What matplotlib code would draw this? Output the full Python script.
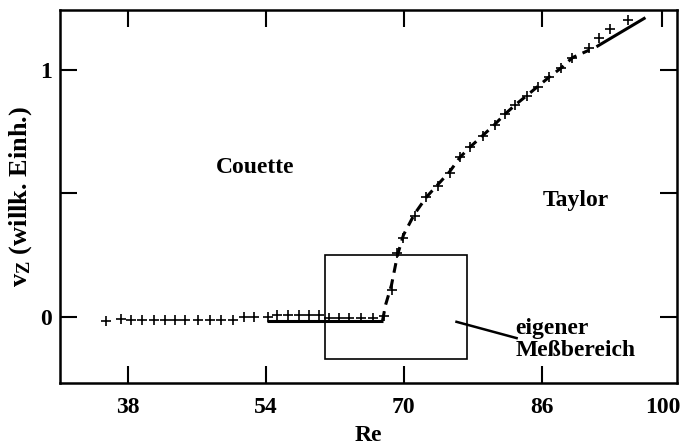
import matplotlib
matplotlib.use("Agg")
import matplotlib.pyplot as plt
from matplotlib.patches import Rectangle

plt.rcParams['font.family'] = ['Liberation Serif', 'DejaVu Serif']
plt.rcParams['font.weight'] = 'bold'
plt.rcParams['mathtext.fontset'] = 'custom'
plt.rcParams['mathtext.rm'] = 'Liberation Serif:bold'
plt.rcParams['mathtext.it'] = 'Liberation Serif:bold'
plt.rcParams['mathtext.bf'] = 'Liberation Serif:bold'

# measured points (+)
re_meas = [35.43, 37.17, 38.33, 39.61, 41.0, 42.27, 43.43, 44.59, 46.1, 47.49,
           48.77, 50.16, 51.43, 52.59, 54.22, 55.26, 56.54, 57.81, 58.97, 60.13,
           61.4, 62.56, 63.72, 65.11, 66.39, 67.78, 68.63, 69.25, 69.9, 71.26,
           72.62, 73.96, 75.32, 76.56, 77.72, 79.18, 80.54, 81.7, 82.93, 84.28,
           85.55, 86.91, 88.27, 89.54, 91.47, 92.71, 93.98, 95.99]
vz_meas = [-0.016, -0.011, -0.013, -0.013, -0.015, -0.013, -0.013, -0.013, -0.013, -0.013,
           -0.013, -0.013, -0.003, -0.003, -0.001, 0.005, 0.007, 0.007, 0.007, 0.007,
           -0.005, -0.005, -0.007, -0.007, -0.007, 0.003, 0.108, 0.257, 0.318, 0.408,
           0.483, 0.530, 0.584, 0.646, 0.687, 0.732, 0.777, 0.820, 0.858, 0.895,
           0.932, 0.973, 1.009, 1.050, 1.088, 1.131, 1.166, 1.203]

# curve: flat part (solid)
re_flat = [54.2, 67.55]
vz_flat = [-0.016, -0.016]
# curve: rising part (dashed)
re_rise = [67.55, 67.90, 68.59, 69.29, 69.98, 71.26, 72.65, 73.93, 75.32, 76.59,
           77.75, 79.14, 80.53, 81.69, 82.97, 84.24, 85.52, 86.91, 88.30, 89.58, 91.55]
vz_rise = [-0.017, 0.047, 0.128, 0.250, 0.331, 0.416, 0.485, 0.534, 0.587, 0.648,
           0.689, 0.733, 0.778, 0.819, 0.859, 0.895, 0.932, 0.972, 1.009, 1.050, 1.081]
# curve: end part (solid)
re_end = [92.36, 98.04]
vz_end = [1.094, 1.212]

xticks = [38, 54, 70, 86, 100]
xticklabels = ['38', '54', '70', '86', '100']
yticks = [0, 0.5, 1]
yticklabels = ['0', '', '1']

fig = plt.figure(figsize=(6.83, 4.48), dpi=100)
ax = fig.add_axes([60/683, 1-383/448, 617/683, 373/448])

ax.plot(re_flat, vz_flat, color='black', lw=2.2, solid_capstyle='butt')
ax.plot(re_rise, vz_rise, color='black', lw=2.2, linestyle=(0, (3.2, 2.2)))
ax.plot(re_end, vz_end, color='black', lw=2.2, solid_capstyle='butt')
ax.plot(re_meas, vz_meas, linestyle='none', marker='+', color='black',
        markersize=7, markeredgewidth=1.2)

ax.add_patch(Rectangle((60.9, -0.173), 16.4, 0.423, fill=False,
                       edgecolor='black', lw=1.2))
ax.plot([76.13, 83.1], [-0.021, -0.087], color='black', lw=1.8)

fs = 17
ax.text(52.82, 0.603, 'Couette', ha='center', va='center', fontsize=fs, fontweight='bold')
ax.text(89.93, 0.469, 'Taylor', ha='center', va='center', fontsize=fs, fontweight='bold')
ax.text(83.0, -0.048, 'eigener', ha='left', va='center', fontsize=fs, fontweight='bold')
ax.text(83.0, -0.138, 'Meßbereich', ha='left', va='center', fontsize=fs, fontweight='bold')

ax.set_xlim(30.15, 101.7)
ax.set_ylim(-0.269, 1.243)
ax.set_xticks(xticks)
ax.set_xticklabels(xticklabels)
ax.set_yticks(yticks)
ax.set_yticklabels(yticklabels)
t = ax.xaxis.get_major_ticks()[-1]
t.tick1line.set_visible(False)
t.tick2line.set_visible(False)

ax.tick_params(axis='both', direction='in', length=12, width=1.5,
               top=True, right=True, labelsize=fs)
ax.tick_params(axis='x', pad=10)
ax.tick_params(axis='y', pad=6)
for lab in ax.get_xticklabels() + ax.get_yticklabels():
    lab.set_fontweight('bold')
for s in ax.spines.values():
    s.set_linewidth(1.8)

ax.set_xlabel('Re', fontsize=fs, fontweight='bold', labelpad=5)
ax.set_ylabel(r'$\mathregular{v_Z}$ (willk. Einh.)', fontsize=19, fontweight='bold', labelpad=4)

fig.savefig('out.png', dpi=100)
